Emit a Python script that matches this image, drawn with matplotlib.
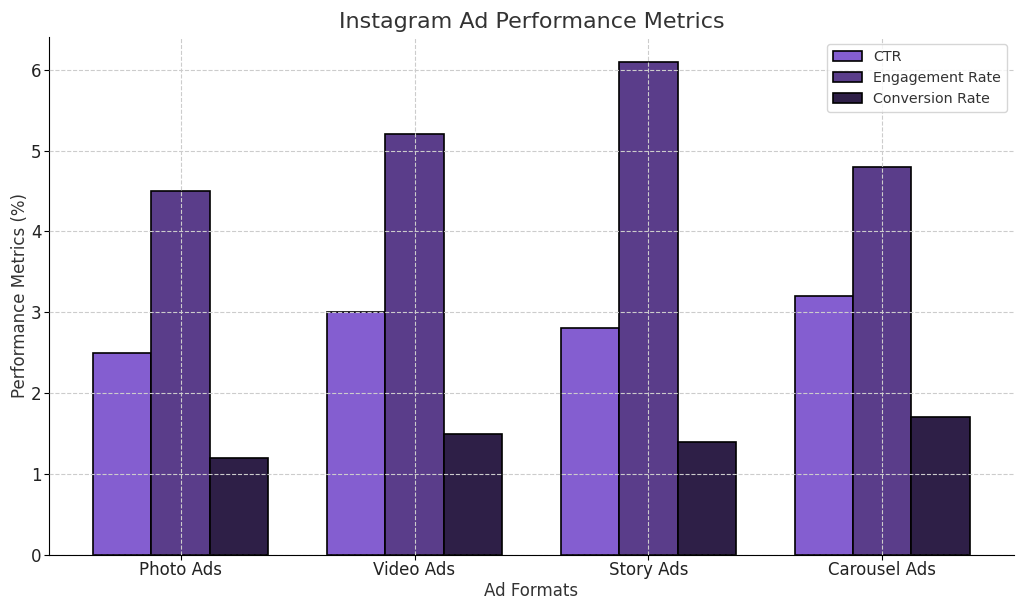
import matplotlib
matplotlib.use("Agg")
import matplotlib.pyplot as plt
import numpy as np

plt.rcParams["font.family"] = ["DejaVu Sans"]

categories = ["Photo Ads", "Video Ads", "Story Ads", "Carousel Ads"]
ctr = [2.5, 3.0, 2.8, 3.2]
engagement = [4.5, 5.2, 6.1, 4.8]
conversion = [1.2, 1.5, 1.4, 1.7]
series_names = ["CTR", "Engagement Rate", "Conversion Rate"]
colors = ["#845ED0", "#5A3D8A", "#2E1F47"]

fig, ax = plt.subplots(figsize=(10.24, 6.11), dpi=100)
x = np.arange(len(categories))
w = 0.25
for i, (vals, name, c) in enumerate(zip([ctr, engagement, conversion], series_names, colors)):
    ax.bar(x + (i - 1) * w, vals, w, label=name, color=c, edgecolor="black", linewidth=1.2)

ax.set_xticks(x)
ax.set_xticklabels(categories, fontsize=12, color="#222222")
ax.tick_params(axis="y", labelsize=12, labelcolor="#222222", pad=2)
ax.tick_params(axis="x", pad=1)
ax.set_xlabel("Ad Formats", fontsize=12, color="#333333", labelpad=2)
ax.set_ylabel("Performance Metrics (%)", fontsize=12, color="#333333", labelpad=1)
ax.set_title("Instagram Ad Performance Metrics", fontsize=16, color="#333333")
ax.set_ylim(0, 6.41)
ax.grid(True, linestyle="--", color="#cccccc", linewidth=0.8)
ax.set_axisbelow(False)
ax.spines["top"].set_visible(False)
ax.spines["right"].set_visible(False)
leg = ax.legend(loc="upper right", fontsize=10.3, labelcolor="#333333")
fig.subplots_adjust(left=0.048, right=0.99, top=0.94, bottom=0.092)
fig.savefig("out.png", dpi=100)
